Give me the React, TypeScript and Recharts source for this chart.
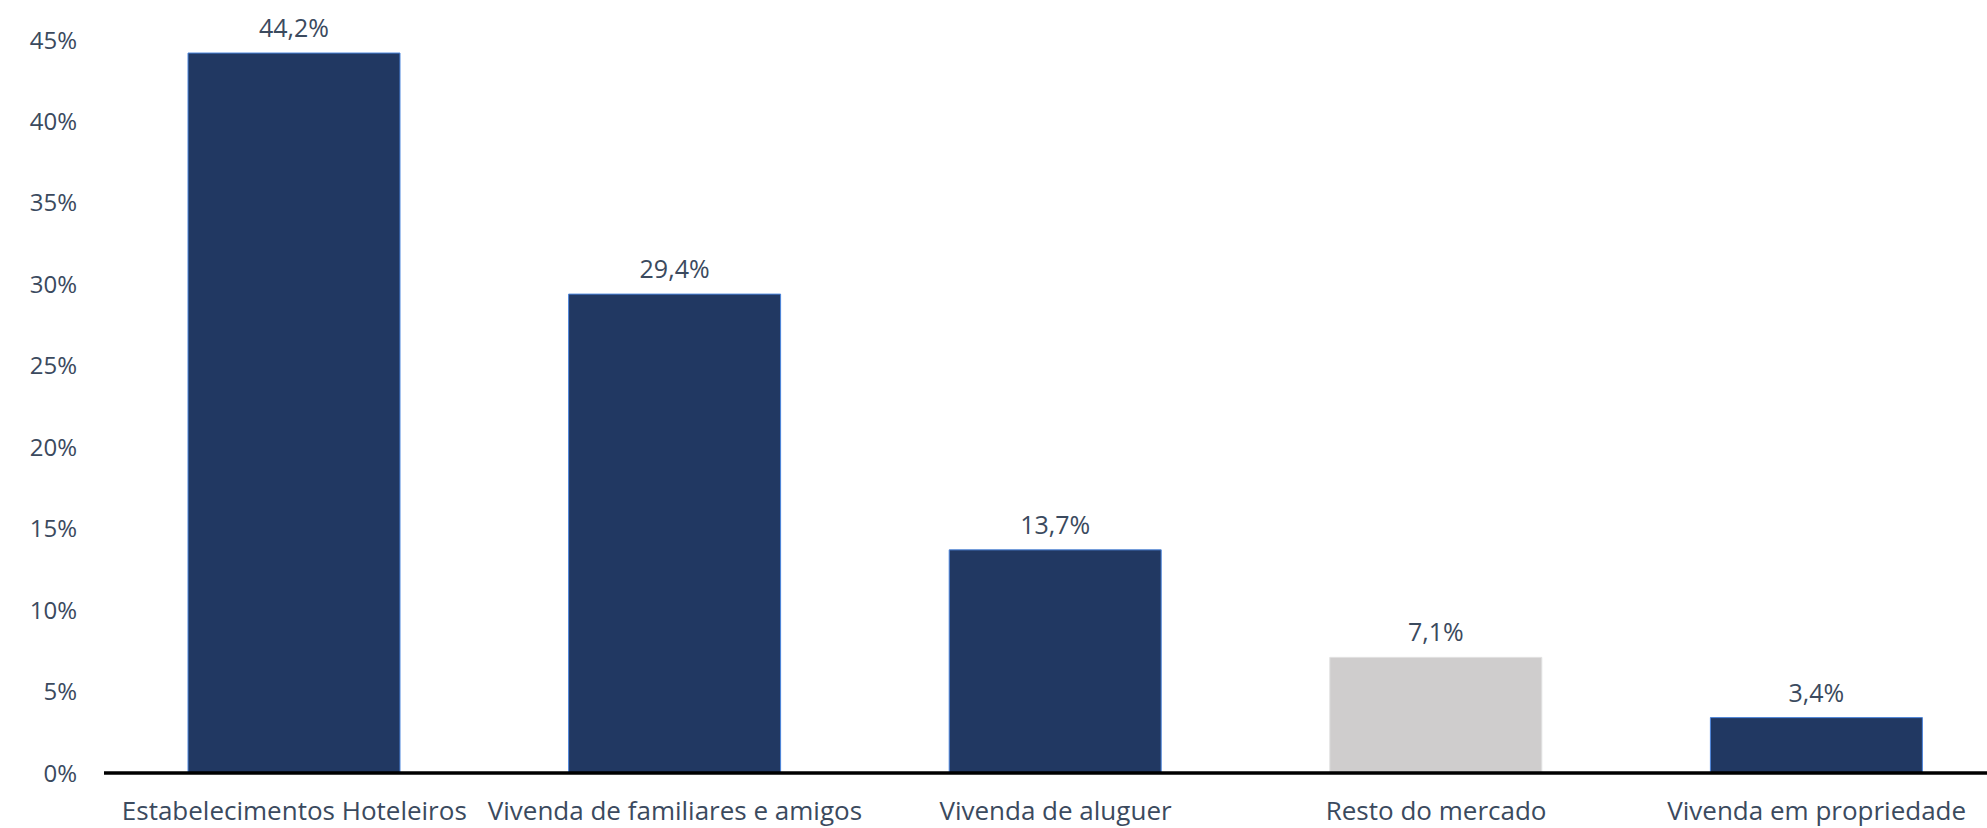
import { BarChart, Bar, XAxis, YAxis, Cell, LabelList } from "recharts";

const categories = [
  "Estabelecimentos Hoteleiros",
  "Vivenda de familiares e amigos",
  "Vivenda de aluguer",
  "Resto do mercado",
  "Vivenda em propriedade",
];
const shares = [44.2, 29.4, 13.7, 7.1, 3.4];
const yTicks = [0, 5, 10, 15, 20, 25, 30, 35, 40, 45];
const mutedCategory = "Resto do mercado";

const data = categories.map((name, i) => ({ name, value: shares[i] }));

const textColor = "#3b4a5e";
const font = "'Open Sans', sans-serif";

const fmtPct = (v: number) => v.toFixed(1).replace(".", ",") + "%";

export default function App() {
  return (
    <div
      style={{
        position: "fixed",
        left: 0,
        top: 0,
        width: 1987,
        height: 828,
        overflow: "hidden",
        background: "#fff",
        fontFamily: font,
      }}
    >
      <BarChart
        width={2007}
        height={828}
        data={data}
        margin={{ top: 40, right: 0, bottom: 0, left: 0 }}
      >
        <XAxis
          dataKey="name"
          height={55}
          axisLine={{ stroke: "#000", strokeWidth: 3.5 }}
          tickLine={false}
          tickSize={0}
          tickMargin={29}
          interval={0}
          tick={{ fill: textColor, fontSize: 26, fontFamily: font }}
        />
        <YAxis
          width={104}
          domain={[0, 45]}
          ticks={yTicks}
          axisLine={false}
          tickLine={false}
          tickSize={0}
          tickMargin={27}
          tickFormatter={(v: number) => `${v}%`}
          tick={{ fill: textColor, fontSize: 24, fontFamily: font }}
        />
        <Bar dataKey="value" barSize={212} isAnimationActive={false}>
          {data.map((d) => (
            <Cell
              key={d.name}
              fill={d.name === mutedCategory ? "#cfcdcd" : "#213862"}
              stroke={d.name === mutedCategory ? "#e2e2e2" : "#4c85dc"}
              strokeWidth={1}
            />
          ))}
          <LabelList
            dataKey="value"
            position="top"
            offset={16}
            formatter={(v: any) => fmtPct(Number(v))}
            style={{ fill: textColor, fontSize: 25, fontFamily: font }}
          />
        </Bar>
      </BarChart>
    </div>
  );
}
